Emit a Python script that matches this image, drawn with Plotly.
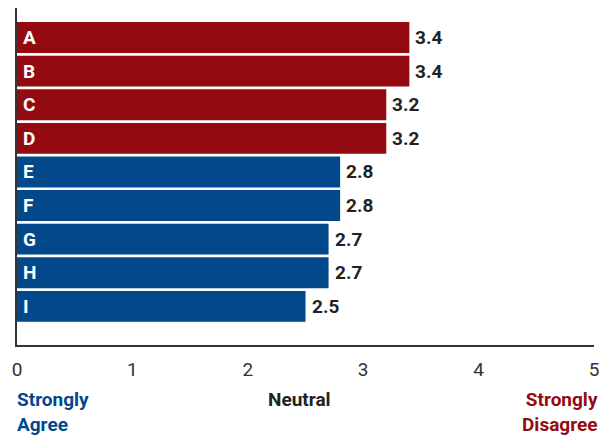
import plotly.graph_objects as go

categories = ["A", "B", "C", "D", "E", "F", "G", "H", "I"]
values = [3.4, 3.4, 3.2, 3.2, 2.8, 2.8, 2.7, 2.7, 2.5]
groups = ["red", "red", "red", "red", "blue", "blue", "blue", "blue", "blue"]
x_ticks = [0, 1, 2, 3, 4, 5]

RED = "#930B10"
BLUE = "#02488B"
FONT = "Roboto, Liberation Sans Narrow, DejaVu Sans Condensed, sans-serif"

colors = [RED if g == "red" else BLUE for g in groups]

fig = go.Figure(go.Bar(
    x=values,
    y=categories,
    orientation="h",
    marker=dict(color=colors, line=dict(width=0)),
    width=0.92,
    hoverinfo="skip",
))

annotations = []
for c, v in zip(categories, values):
    annotations.append(dict(
        x=0, y=c, xref="x", yref="y", text=c, showarrow=False,
        xanchor="left", yanchor="middle", xshift=4,
        font=dict(family=FONT, size=19, color="white", weight="bold"),
    ))
    annotations.append(dict(
        x=v, y=c, xref="x", yref="y", text=f"{v:.1f}", showarrow=False,
        xanchor="left", yanchor="middle", xshift=4,
        font=dict(family=FONT, size=19, color="#222222", weight="bold"),
    ))

annotations += [
    dict(x=0, y=-0.122, xref="x", yref="paper", text="Strongly<br>Agree",
         showarrow=False, xanchor="left", yanchor="top", align="left", xshift=-2,
         font=dict(family=FONT, size=19, color=BLUE, weight="bold")),
    dict(x=2.45, y=-0.122, xref="x", yref="paper", text="Neutral",
         showarrow=False, xanchor="center", yanchor="top",
         font=dict(family=FONT, size=19, color="#222222", weight="bold")),
    dict(x=5, y=-0.122, xref="x", yref="paper", text="Strongly<br>Disagree",
         showarrow=False, xanchor="right", yanchor="top", align="right", xshift=6,
         font=dict(family=FONT, size=19, color=RED, weight="bold")),
]

fig.update_layout(
    width=612, height=439,
    margin=dict(l=17, r=18, t=8, b=94),
    plot_bgcolor="white", paper_bgcolor="white",
    showlegend=False,
    font=dict(family=FONT),
    xaxis=dict(
        range=[0, 5], tickvals=x_ticks, ticktext=[str(t) for t in x_ticks],
        showgrid=False, zeroline=False, automargin=False,
        showline=True, linecolor="#333333", linewidth=2,
        tickfont=dict(family=FONT, size=19, color="#333333"),
        ticks="outside", ticklen=6, tickcolor="rgba(0,0,0,0)",
    ),
    yaxis=dict(
        categoryorder="array", categoryarray=categories,
        range=[len(categories) - 1 + 1.15, -0.88],
        showgrid=False, zeroline=False, automargin=False,
        showline=True, linecolor="#333333", linewidth=2,
        showticklabels=False, ticks="",
    ),
    annotations=annotations,
)

fig.write_html("out.html", config={"displayModeBar": False},
               post_script="document.body.style.margin='0';")
